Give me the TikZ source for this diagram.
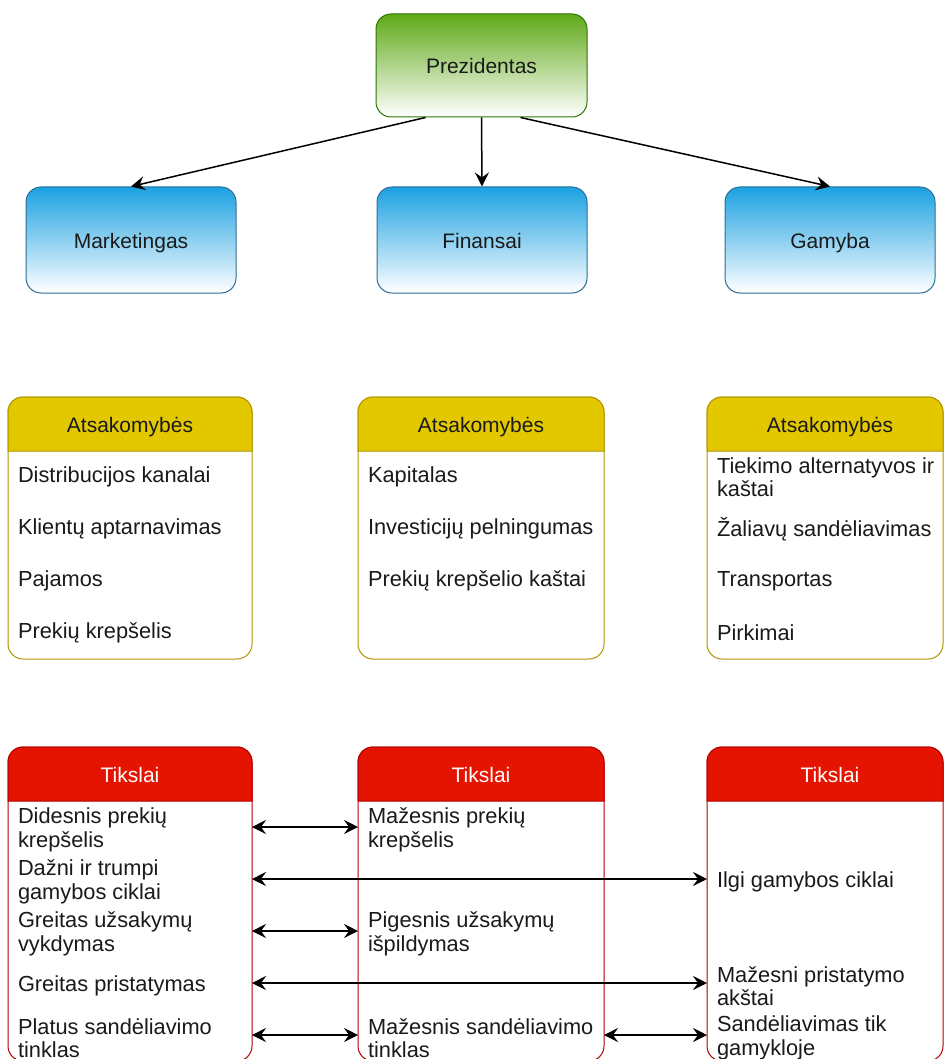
\documentclass[tikz,border=0pt]{standalone}
\usepackage{fontspec}
\setmainfont{Liberation Sans}
\usetikzlibrary{arrows.meta,calc}

\definecolor{presgreen}{HTML}{60A917}
\definecolor{presline}{HTML}{2D7600}
\definecolor{deptblue}{HTML}{1BA1E2}
\definecolor{deptline}{HTML}{2E6E96}
\definecolor{respyellow}{HTML}{E3C800}
\definecolor{respline}{HTML}{B09500}
\definecolor{goalred}{HTML}{E51400}
\definecolor{goalline}{HTML}{B20000}
\definecolor{inktext}{HTML}{1A1A1A}

% A list container: white body, coloured title band, title text.
% #1 name, #2 left x, #3 right x, #4 top y, #5 bottom y,
% #6 style prefix, #7 title x, #8 title
\newcommand{\swimlanebox}[8]{%
  \node[#6 body, minimum width={#3-#2}, minimum height={#5-#4}]
    (#1) at ({(#2+#3)/2},{(#4+#5)/2}) {};
  \path[#6 head] (#2,{#4+54}) [rounded corners=15pt] -- (#2,#4) -- (#3,#4)
    [sharp corners] -- (#3,{#4+54}) -- cycle;
  \node[#6 title] (#1-title) at (#7,{#4+27}) {#8};
}

\tikzset{
  unit/.style={font=\fontsize{21}{24}\selectfont, text height=18pt, text depth=1.5pt},
  topbox/.style={unit, rounded corners=15pt, line width=1pt, inner sep=0pt,
    minimum width=210, minimum height=104, text=inktext},
  presbox/.style={topbox, draw=presline, top color=presgreen, bottom color=white},
  deptbox/.style={topbox, draw=deptline, top color=deptblue, bottom color=white,
    minimum height=106},
  lanebody/.style={draw, fill=white, rounded corners=15pt, inner sep=0pt,
    outer sep=0pt, line width=1pt},
  ats body/.style={lanebody, draw=respline},
  ats head/.style={fill=respyellow, draw=respline, line width=1pt},
  ats title/.style={unit, text=inktext},
  tik body/.style={lanebody, draw=goalline},
  tik head/.style={fill=goalred, draw=goalline, line width=1pt},
  tik title/.style={unit, text=white},
  item/.style={font=\fontsize{21.8}{23.5}\selectfont, text=inktext, anchor=west,
    align=left, inner xsep=10pt, inner ysep=0pt, outer sep=0pt},
  goal/.style={item, yshift=-3pt},
  linktip/.tip={Stealth[length=14pt,width=14pt,inset=5pt]},
  arr/.style={line width=1.5pt, -linktip},
  biarrow/.style={line width=1.5pt, linktip-linktip},
}

\begin{document}
\begin{tikzpicture}[x=1pt, y=-1pt]
  \useasboundingbox (0,0) rectangle (944,1059);
  \clip (0,0) rectangle (944,1059);
  \fill[white] (0,0) rectangle (944,1059);

  % management level
  \node[presbox, minimum width=211, minimum height=103] (prez) at (481.5,65.5) {Prezidentas};
  \node[deptbox] (mkt) at (131,240) {Marketingas};
  \node[deptbox] (fin) at (482,240) {Finansai};
  \node[deptbox] (gam) at (830,240) {Gamyba};

  \draw[arr] ($(prez.south)+(-56,0)$) -- (mkt.north);
  \draw[arr] (prez.south) -- (fin.north);
  \draw[arr] ($(prez.south)+(39,0)$) -- (gam.north);

  % responsibilities
  \swimlanebox{atsL}{8}{252}{397}{659}{ats}{130}{Atsakomybės}
  \swimlanebox{atsM}{358}{604}{397}{659}{ats}{481}{Atsakomybės}
  \swimlanebox{atsR}{707}{943}{397}{659}{ats}{830}{Atsakomybės}

  \node[item] (aL1) at (8,477) {Distribucijos kanalai};
  \node[item] (aL2) at (8,529) {Klientų aptarnavimas};
  \node[item] (aL3) at (8,581) {Pajamos};
  \node[item] (aL4) at (8,633) {Prekių krepšelis};

  \node[item] (aM1) at (358,477) {Kapitalas};
  \node[item] (aM2) at (358,529) {Investicijų pelningumas};
  \node[item] (aM3) at (358,581) {Prekių krepšelio kaštai};

  \node[item] (aR1) at (707,477) {Tiekimo alternatyvos ir\\kaštai};
  \node[item] (aR2) at (707,529) {Žaliavų sandėliavimas};
  \node[item] (aR3) at (707,581) {Transportas};
  \node[item] (aR4) at (707,633) {Pirkimai};

  % goals
  \swimlanebox{tikL}{8}{252}{747}{1061}{tik}{130}{Tikslai}
  \swimlanebox{tikM}{358}{604}{747}{1061}{tik}{481}{Tikslai}
  \swimlanebox{tikR}{707}{943}{747}{1061}{tik}{830}{Tikslai}

  \node[goal] (tL1) at (8,827) {Didesnis prekių\\krepšelis};
  \node[goal] (tL2) at (8,879) {Dažni ir trumpi\\gamybos ciklai};
  \node[goal] (tL3) at (8,931) {Greitas užsakymų\\vykdymas};
  \node[goal] (tL4) at (8,983) {Greitas pristatymas};
  \node[goal] (tL5) at (8,1035) {Platus sandėliavimo\\tinklas};

  \node[goal] (tM1) at (358,827) {Mažesnis prekių\\krepšelis};
  \node[goal] (tM3) at (358,931) {Pigesnis užsakymų\\išpildymas};
  \node[goal] (tM5) at (358,1035) {Mažesnis sandėliavimo\\tinklas};

  \node[goal] (tR2) at (707,879) {Ilgi gamybos ciklai};
  \node[goal] (tR4) at (707,983) {Mažesni pristatymo\\akštai};
  \node[goal] (tR5) at (707,1035) {Sandėliavimas tik\\gamykloje};

  % conflicting goals, level with the row centres (3 above the text centres)
  \draw[biarrow] ($(tikL.east |- tL1.west)+(0,-3)$) -- ($(tikM.west |- tM1.west)+(0,-3)$);
  \draw[biarrow] ($(tikL.east |- tL2.west)+(0,-3)$) -- ($(tikR.west |- tR2.west)+(0,-3)$);
  \draw[biarrow] ($(tikL.east |- tL3.west)+(0,-3)$) -- ($(tikM.west |- tM3.west)+(0,-3)$);
  \draw[biarrow] ($(tikL.east |- tL4.west)+(0,-3)$) -- ($(tikR.west |- tR4.west)+(0,-3)$);
  \draw[biarrow] ($(tikL.east |- tL5.west)+(0,-3)$) -- ($(tikM.west |- tM5.west)+(0,-3)$);
  \draw[biarrow] ($(tikM.east |- tM5.west)+(0,-3)$) -- ($(tikR.west |- tR5.west)+(0,-3)$);
\end{tikzpicture}
\end{document}
